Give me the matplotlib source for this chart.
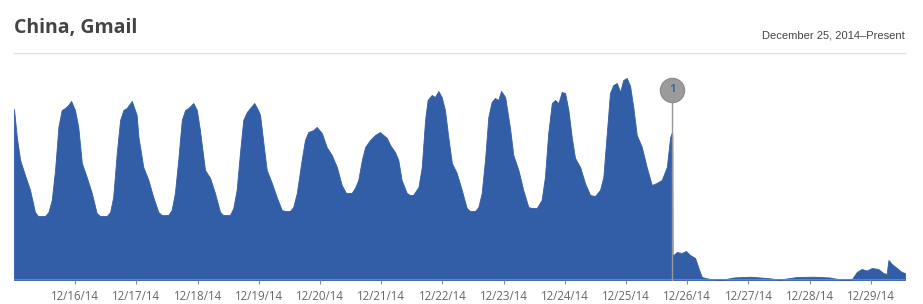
import matplotlib
matplotlib.use("Agg")
import matplotlib.pyplot as plt
import matplotlib.dates as mdates
from matplotlib.lines import Line2D
import pandas as pd
import numpy as np

# ---- data (hours since 2014-12-15 00:00, traffic level) ----
hours = [0, 1.1, 2.4, 4.3, 6.3, 8.2, 9.4, 12.2, 13.5, 14.8, 16.1, 17.4, 18.7, 20.0, 21.3, 22.4, 23.9,
         25.2, 26.6, 28.5, 30.5, 32.4, 33.7, 36.4, 37.7, 38.9, 40.3, 41.6, 42.9, 44.2, 46.2, 48.1,
         48.8, 50.7, 52.7, 54.6, 56.6, 57.9, 60.5, 61.8, 63.1, 64.4, 65.8, 67.1, 68.4, 70.3, 71.7,
         72.9, 74.9, 76.9, 78.8, 80.8, 82.0, 84.7, 86.0, 87.3, 88.6, 89.9, 91.3, 92.6, 94.2, 95.7,
         96.5, 97.8, 99.1, 101.1, 103.0, 105.0, 106.3, 108.2, 109.5, 110.9, 112.8, 114.1, 115.4,
         117.4, 118.7, 120.7, 122.6, 124.6, 126.6, 128.5, 130.2, 132.4, 133.7, 135.0, 136.4, 137.7,
         139.6, 141.6, 143.5, 146.2, 147.5, 149.4, 150.7, 152.0, 154.0, 155.3, 156.5, 158.6, 159.9,
         161.2, 162.2, 163.8, 165.1, 166.4, 167.7, 169.0, 170.3, 171.7, 173.6, 175.6, 177.5, 178.8,
         180.8, 182.1, 183.4, 184.7, 186.0, 187.3, 188.6, 189.9, 191.0, 192.6, 194.5, 195.8, 197.8,
         199.7, 201.7, 203.0, 205.0, 206.9, 208.2, 209.5, 210.9, 212.2, 213.5, 214.8, 216.1, 217.4,
         218.7, 220.0, 222.0, 223.9, 225.9, 227.8, 229.8, 231.1, 232.4, 233.7, 235.0, 236.4, 237.7,
         238.9, 240.3, 241.6, 242.9, 244.2, 246.2, 248.1, 250.1, 252.0, 254.0, 256.0, 257.3, 257.9,
         258.15, 258.25, 258.6, 259.9, 261.8, 263.5, 265.1, 267.1, 268.4, 269.7, 272.9, 278.2, 282.1,
         288.6, 295.2, 300.4, 306.9, 313.5, 320.0, 323.9, 328.5, 330.5, 332.4, 334.4, 336.4, 338.9,
         340.9, 342.2, 342.9, 344.2, 346.2, 348.1, 349.4]
traffic = [171, 143, 120, 105, 90, 68, 64, 64, 68, 80, 110, 153, 170, 172, 175, 179, 170,
           153, 117, 103, 87, 67, 64, 64, 68, 83, 127, 160, 170, 172, 179, 165,
           143, 113, 100, 83, 68, 65, 65, 70, 87, 120, 160, 170, 172, 177, 170,
           150, 110, 102, 87, 68, 65, 65, 72, 90, 127, 160, 168, 172, 177, 170,
           165, 137, 110, 97, 83, 70, 69, 69, 73, 87, 120, 140, 148,
           150, 153, 147, 133, 125, 113, 95, 87, 87, 92, 100, 120, 133,
           140, 145, 148, 142, 135, 128, 120, 100, 87, 85, 85, 93, 113,
           160, 180, 185, 183, 189, 183, 170, 143, 117, 107, 90, 72, 69,
           69, 73, 87, 120, 163, 178, 182, 180, 189, 183, 152, 125, 110,
           90, 73, 72, 72, 80, 103, 147, 177, 180, 177, 188, 187, 170,
           143, 122, 113, 97, 85, 84, 90, 103, 145, 187, 195, 197, 188,
           200, 202, 194, 172, 145, 133, 113, 95, 97, 100, 113, 143, 147,
           147, 25, 25, 28, 27, 29, 25, 22, 12, 3, 1, 0.5, 2.5,
           3.3, 2, 0.5, 3, 3.3, 2.5, 0.5, 0.5, 8, 11, 9.5, 12, 11,
           7, 6, 20, 16, 12, 8, 7]

start = pd.Timestamp("2014-12-15 00:00")
tick_days = pd.date_range("2014-12-16", "2014-12-29", freq="D")
event_hour = 258.2
event_label = "1"
title = "China, Gmail"
subtitle = "December 25, 2014\u2013Present"

times = start + pd.to_timedelta(hours, unit="h")
event_time = start + pd.to_timedelta(event_hour, unit="h")

W, H = 923, 304
fig = plt.figure(figsize=(W / 100, H / 100), dpi=100)
ax = fig.add_axes([14 / W, (H - 280) / H, (905 - 14) / W, 220 / H])

fill_color = "#325ea8"
ax.fill_between(times, 0, traffic, color=fill_color, linewidth=0.6, edgecolor=fill_color)
ax.axhline(0, color="#5b86cc", lw=1.5, zorder=3)

ax.set_xlim(times[0], times[-1])
ax.set_ylim(0, 220)
for s in ax.spines.values():
    s.set_visible(False)
ax.set_yticks([])
ax.set_xticks(tick_days)
ax.xaxis.set_major_formatter(mdates.DateFormatter("%m/%d/%y"))
ax.tick_params(axis="x", length=3, width=0.8, color="#888888", labelcolor="#666666",
               labelsize=8.3, pad=4)
for lbl in ax.get_xticklabels():
    lbl.set_fontfamily("Open Sans")

# event marker
ax.plot([event_time, event_time], [0, 178], color="#999999", lw=1, zorder=4, clip_on=False)
ax.plot([event_time], [190], marker="o", markersize=17.5, markerfacecolor="#9b9b9b",
        markeredgecolor="#8a8a8a", markeredgewidth=0.8, zorder=5, clip_on=False)
ax.text(event_time, 190, event_label, ha="center", va="center", color="#3a68b0",
        fontsize=8, fontweight="bold", fontfamily="Open Sans", zorder=6, clip_on=False)

# header
fig.text(14 / W, (H - 33) / H, title, ha="left", va="baseline", fontsize=14,
         fontweight="bold", color="#444444", fontfamily="Open Sans")
fig.text(905 / W, (H - 38) / H, subtitle, ha="right", va="baseline", fontsize=8,
         color="#444444", fontfamily="Liberation Sans")
fig.add_artist(Line2D([14 / W, 905 / W], [(H - 52.5) / H] * 2, color="#e3e3e3", lw=1))

fig.savefig("out.png", dpi=100)
